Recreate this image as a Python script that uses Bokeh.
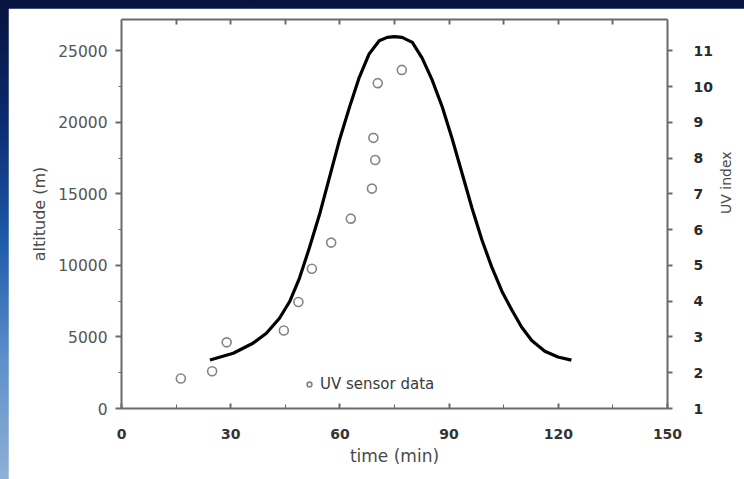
import math
from bokeh.plotting import figure
from bokeh.models import (Range1d, LinearAxis, FixedTicker, Legend, LegendItem,
                          CustomJSTickFormatter)
from bokeh.embed import file_html
from bokeh.resources import INLINE

# altitude profile (line, left axis)
time_curve = [24.3, 30.7, 36.1, 39.8, 43.4, 46.2, 48.9, 51.6, 54.4, 57.1, 59.8, 62.6, 65.3,
              68.0, 70.8, 73.0, 75.0, 77.1, 79.9, 82.6, 85.3, 88.1, 90.8, 93.5, 96.3, 99.0,
              101.7, 104.5, 107.2, 109.9, 112.7, 116.3, 119.9, 123.6]
altitude_curve = [3390, 3860, 4560, 5260, 6310, 7480, 9120, 11220, 13560, 16130, 18700, 21040, 23140,
                  24780, 25710, 25950, 26000, 25950, 25600, 24500, 23000, 21100, 18900, 16500, 14000, 11800,
                  9900, 8200, 6900, 5700, 4750, 4000, 3600, 3380]

# UV sensor data (circles, right axis)
time_uv = [16.3, 24.9, 28.9, 44.6, 48.6, 52.3, 57.6, 63.0, 68.8, 69.7, 69.2, 70.4, 77.0]
uv_index = [1.84, 2.04, 2.85, 3.18, 3.98, 4.91, 5.64, 6.31, 7.15, 7.95, 8.57, 10.10, 10.47]

x_ticks = [0, 30, 60, 90, 120, 150]
x_minor = [15, 45, 75, 105, 135]
top_ticks = [15, 30, 45, 60, 75, 90, 105, 120, 135]
alt_ticks = [0, 5000, 10000, 15000, 20000, 25000]
alt_minor = [2500, 7500, 12500, 17500, 22500]
uv_ticks = [1, 2, 3, 4, 5, 6, 7, 8, 9, 10, 11]

Y_MAX = 27200

p = figure(width=736, height=471, output_backend="svg", toolbar_location=None,
           x_range=Range1d(0, 150), y_range=Range1d(0, Y_MAX),
           min_border_left=113, min_border_right=75, min_border_top=11, min_border_bottom=71,
           x_axis_label="time (min)", y_axis_label="altitude (m)")
p.extra_y_ranges = {"uv": Range1d(1, 1 + Y_MAX / 2500)}
p.xgrid.visible = False
p.ygrid.visible = False
p.outline_line_color = None
p.background_fill_color = "white"
p.border_fill_color = "white"

AX = "#6a6a6a"
FONT = "DejaVu Sans"

# bottom axis
xa = p.xaxis[0]
xa.ticker = FixedTicker(ticks=x_ticks, minor_ticks=x_minor)
xa.axis_line_color = AX
xa.axis_line_width = 2
xa.major_tick_line_color = AX
xa.minor_tick_line_color = AX
xa.major_tick_line_width = 2
xa.major_tick_in = 5
xa.major_tick_out = 0
xa.minor_tick_in = 4
xa.minor_tick_out = 0
xa.major_label_text_font = FONT
xa.major_label_text_font_style = "bold"
xa.major_label_text_font_size = "14px"
xa.major_label_text_color = "#333333"
xa.major_label_standoff = 20
xa.axis_label_text_font = FONT
xa.axis_label_text_font_style = "normal"
xa.axis_label_text_font_size = "17px"
xa.axis_label_text_color = "#4a4a4a"
xa.axis_label_standoff = 4

# left axis
ya = p.yaxis[0]
ya.ticker = FixedTicker(ticks=alt_ticks, minor_ticks=alt_minor)
ya.axis_line_color = AX
ya.axis_line_width = 2
ya.major_tick_line_color = AX
ya.minor_tick_line_color = AX
ya.major_tick_line_width = 2
ya.major_tick_in = 0
ya.major_tick_out = 6
ya.minor_tick_in = 0
ya.minor_tick_out = 3
ya.major_label_text_font = FONT
ya.major_label_text_font_size = "15.5px"
ya.major_label_text_color = "#555555"
ya.major_label_standoff = 8
ya.axis_label_text_font = FONT
ya.axis_label_text_font_style = "normal"
ya.axis_label_text_font_size = "16px"
ya.axis_label_text_color = "#4a4a4a"
ya.axis_label_standoff = 6

# right axis (UV index)
ra = LinearAxis(y_range_name="uv", axis_label="UV index",
                ticker=FixedTicker(ticks=uv_ticks, minor_ticks=[]))
ra.axis_line_color = AX
ra.axis_line_width = 2
ra.major_tick_line_color = AX
ra.major_tick_line_width = 2
ra.major_tick_in = 0
ra.major_tick_out = 5
ra.major_label_text_font = FONT
ra.major_label_text_font_style = "bold"
ra.major_label_text_font_size = "14px"
ra.major_label_text_color = "#2a2a2a"
ra.major_label_standoff = 21
ra.axis_label_text_font = FONT
ra.axis_label_text_font_style = "normal"
ra.axis_label_text_font_size = "14px"
ra.axis_label_text_color = "#4a4a4a"
ra.axis_label_standoff = 10
ra.axis_label_text_align = "center"
ra.axis_label_text_baseline = "middle"
try:
    ra.axis_label_orientation = math.pi / 2   # read bottom-to-top, like the reference
except Exception:
    pass
p.add_layout(ra, "right")

# top axis (ticks only)
ta = LinearAxis(ticker=FixedTicker(ticks=top_ticks, minor_ticks=[]),
                formatter=CustomJSTickFormatter(code="return '';"))
ta.axis_line_color = AX
ta.axis_line_width = 2
ta.major_tick_line_color = AX
ta.major_tick_line_width = 2
ta.major_tick_in = 5
ta.major_tick_out = 0
ta.major_label_text_font_size = "1px"
ta.major_label_standoff = 0
p.add_layout(ta, "above")

# data
p.line(time_curve, altitude_curve, line_color="black", line_width=3.2, line_join="round")
pts = p.scatter(time_uv, uv_index, y_range_name="uv", marker="circle", size=9,
                fill_color="white", line_color="#858585", line_width=1.6)

legend = Legend(items=[LegendItem(label="UV sensor data", renderers=[pts])],
                location=(182, 14), border_line_color=None, background_fill_alpha=0,
                padding=0, margin=0, glyph_width=12, label_standoff=5,
                label_text_font=FONT, label_text_font_size="15px", label_text_color="#3a3a3a")
p.add_layout(legend, "center")

html = file_html(p, INLINE)
style = ("<style>html{margin:0 !important;min-height:100%;background:linear-gradient(to bottom,"
         "#06133d 0%,#0c2a6e 25%,#1d5aa8 50%,#5d8fca 75%,#8fb0d6 100%) no-repeat fixed;}"
         "body{margin:0 !important;padding:8px 0 0 8px !important;box-sizing:border-box;"
         "background:transparent !important;}</style>")
html = html.replace("</head>", style + "</head>", 1)
open("out.html", "w").write(html)
